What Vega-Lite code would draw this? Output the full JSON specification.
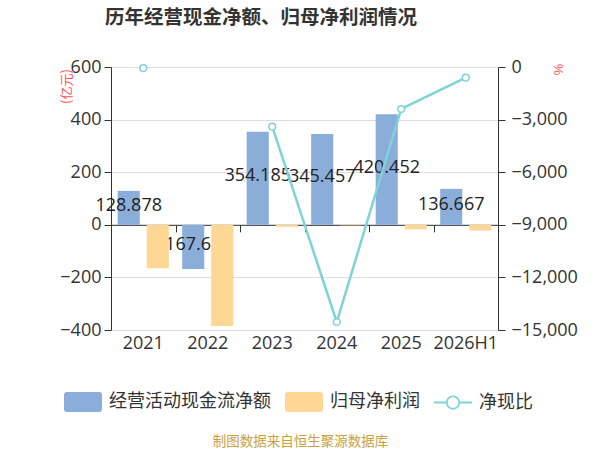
{
  "$schema": "https://vega.github.io/schema/vega-lite/v6.json",
  "width": 387,
  "height": 263,
  "autosize": {"type": "none"},
  "padding": {"left": 111, "top": 67, "right": 102, "bottom": 120},
  "background": "white",
  "datasets": {
    "bars": [
      {"year": "2021", "series": "经营活动现金流净额", "value": 128.878},
      {"year": "2021", "series": "归母净利润", "value": -165},
      {"year": "2022", "series": "经营活动现金流净额", "value": -167.623},
      {"year": "2022", "series": "归母净利润", "value": -385},
      {"year": "2023", "series": "经营活动现金流净额", "value": 354.185},
      {"year": "2023", "series": "归母净利润", "value": -8},
      {"year": "2024", "series": "经营活动现金流净额", "value": 345.457},
      {"year": "2024", "series": "归母净利润", "value": -2},
      {"year": "2025", "series": "经营活动现金流净额", "value": 420.452},
      {"year": "2025", "series": "归母净利润", "value": -17},
      {"year": "2026H1", "series": "经营活动现金流净额", "value": 136.667},
      {"year": "2026H1", "series": "归母净利润", "value": -22}
    ],
    "ratio": [
      {"year": "2021", "ratio": -70},
      {"year": "2022", "ratio": null},
      {"year": "2023", "ratio": -3405},
      {"year": "2024", "ratio": -14544},
      {"year": "2025", "ratio": -2395},
      {"year": "2026H1", "ratio": -610}
    ]
  },
  "title": {
    "text": "历年经营现金净额、归母净利润情况",
    "anchor": "start",
    "frame": "group",
    "dx": -6,
    "offset": 30,
    "fontSize": 19.5,
    "fontWeight": "bold",
    "color": "#333333",
    "font": "Noto Sans CJK SC"
  },
  "layer": [
    {
      "data": {"name": "bars"},
      "encoding": {
        "x": {
          "field": "year",
          "type": "nominal",
          "sort": null,
          "scale": {"paddingInner": 0, "paddingOuter": 0},
          "axis": {
            "title": "制图数据来自恒生聚源数据库",
            "titleX": 189,
            "titleY": 111,
            "titleAlign": "center",
            "titleBaseline": "middle",
            "titleColor": "#c9a13e",
            "titleFontSize": 13.5,
            "titleFontWeight": "normal",
            "titleFont": "Noto Sans CJK SC",
            "labelAngle": 0,
            "ticks": false,
            "domain": false,
            "grid": false,
            "labelPadding": 4,
            "labelFontSize": 18,
            "labelColor": "#333333",
            "labelFont": "Open Sans"
          }
        }
      },
      "layer": [
        {
          "transform": [{"filter": "datum.series === '经营活动现金流净额'"}],
          "mark": {"type": "bar", "color": "#8badda"},
          "encoding": {
            "xOffset": {
              "field": "series",
              "type": "nominal",
              "scale": {"domain": ["经营活动现金流净额", "归母净利润"], "paddingInner": 0.24, "paddingOuter": 0.23}
            },
            "y": {
              "field": "value",
              "type": "quantitative",
              "title": "(亿元)",
              "scale": {"domain": [-400, 600], "nice": false, "zero": false},
              "axis": {
                "values": [-400, -200, 0, 200, 400, 600],
                "grid": true,
                "gridColor": "#dddddd",
                "domainColor": "#333333",
                "tickColor": "#333333",
                "tickSize": 7,
                "labelPadding": 3,
                "labelFontSize": 18,
                "labelColor": "#333333",
                "labelFont": "Open Sans",
                "titleX": -45,
                "titleY": 19,
                "titleAngle": -90,
                "titleAlign": "center",
                "titleBaseline": "middle",
                "titleColor": "#ff5555",
                "titleFontSize": 13,
                "titleFontWeight": "normal",
                "titleFont": "Noto Sans CJK SC"
              }
            },
            "color": {
              "field": "series",
              "type": "nominal",
              "scale": {
                "domain": ["经营活动现金流净额", "归母净利润", "净现比"],
                "range": ["#8badda", "#fed794", "#7fd3d7"]
              },
              "legend": {
                "orient": "none",
                "legendX": -47,
                "legendY": 316,
                "direction": "horizontal",
                "title": null,
                "padding": 0,
                "symbolSize": 1444,
                "labelFontSize": 18,
                "labelColor": "#333333",
                "labelFont": "Noto Sans CJK SC",
                "labelOffset": 7,
                "labelLimit": 300,
                "columnPadding": 14,
                "encode": {
                  "symbols": {
                    "update": {
                      "shape": {"signal": "datum.value === '净现比' ? 'M-1,-0.055H-0.37V0.055H-1Z M0.37,-0.055H1V0.055H0.37Z M0.37,0C0.37,0.2044 0.2044,0.37 0,0.37C-0.2044,0.37 -0.37,0.2044 -0.37,0C-0.37,-0.2044 -0.2044,-0.37 0,-0.37C0.2044,-0.37 0.37,-0.2044 0.37,0Z M0.28,0C0.28,-0.1546 0.1546,-0.28 0,-0.28C-0.1546,-0.28 -0.28,-0.1546 -0.28,0C-0.28,0.1546 -0.1546,0.28 0,0.28C0.1546,0.28 0.28,0.1546 0.28,0Z' : 'M-0.84,-0.526H0.84Q1,-0.526 1,-0.368V0.368Q1,0.526 0.84,0.526H-0.84Q-1,0.526 -1,0.368V-0.368Q-1,-0.526 -0.84,-0.526Z'"},
                      "fill": {"scale": "color", "field": "value"},
                      "stroke": {"value": "transparent"},
                      "strokeWidth": {"value": 0},
                      "opacity": {"value": 1},
                      "fillOpacity": {"value": 1}
                    }
                  }
                }
              }
            }
          }
        },
        {
          "transform": [
            {"filter": "datum.series === '经营活动现金流净额'"},
            {"calculate": "datum.value / 2", "as": "mid"}
          ],
          "mark": {"type": "text", "fontSize": 18, "font": "Open Sans", "color": "#222222", "dy": -2, "baseline": "middle", "align": "center"},
          "encoding": {
            "xOffset": {"field": "series", "type": "nominal"},
            "y": {"field": "mid", "type": "quantitative", "title": "(亿元)"},
            "text": {"field": "value", "type": "quantitative", "format": ".3f"}
          }
        },
        {
          "transform": [{"filter": "datum.series === '归母净利润'"}],
          "mark": {"type": "bar"},
          "encoding": {
            "xOffset": {"field": "series", "type": "nominal"},
            "y": {"field": "value", "type": "quantitative", "title": "(亿元)"},
            "color": {"field": "series", "type": "nominal"}
          }
        }
      ]
    },
    {
      "data": {"name": "ratio"},
      "mark": {
        "type": "line",
        "strokeWidth": 2.5,
        "invalid": "break-paths-filter-domains",
        "point": {"filled": false, "fill": "#ffffff", "size": 45, "strokeWidth": 1.5}
      },
      "encoding": {
        "x": {
          "field": "year",
          "type": "nominal",
          "sort": null,
          "axis": {
            "orient": "bottom",
            "offset": -105.2,
            "labels": false,
            "title": null,
            "domain": true,
            "domainColor": "#333333",
            "ticks": true,
            "tickBand": "extent",
            "tickSize": 7,
            "tickColor": "#333333",
            "grid": false
          }
        },
        "y": {
          "field": "ratio",
          "type": "quantitative",
          "title": "%",
          "scale": {"domain": [-15000, 0], "nice": false, "zero": false},
          "axis": {
            "orient": "right",
            "values": [-15000, -12000, -9000, -6000, -3000, 0],
            "format": ",.0f",
            "grid": false,
            "domainColor": "#333333",
            "tickColor": "#333333",
            "tickSize": 7,
            "labelPadding": 6,
            "labelFontSize": 18,
            "labelColor": "#333333",
            "labelFont": "Open Sans",
            "titleX": 59,
            "titleY": 2,
            "titleAngle": 90,
            "titleAlign": "center",
            "titleBaseline": "middle",
            "titleColor": "#ff5555",
            "titleFontSize": 13,
            "titleFontWeight": "normal"
          }
        },
        "color": {"datum": "净现比", "type": "nominal"}
      }
    }
  ],
  "resolve": {"scale": {"y": "independent"}, "axis": {"x": "independent"}},
  "config": {"view": {"stroke": null}}
}
